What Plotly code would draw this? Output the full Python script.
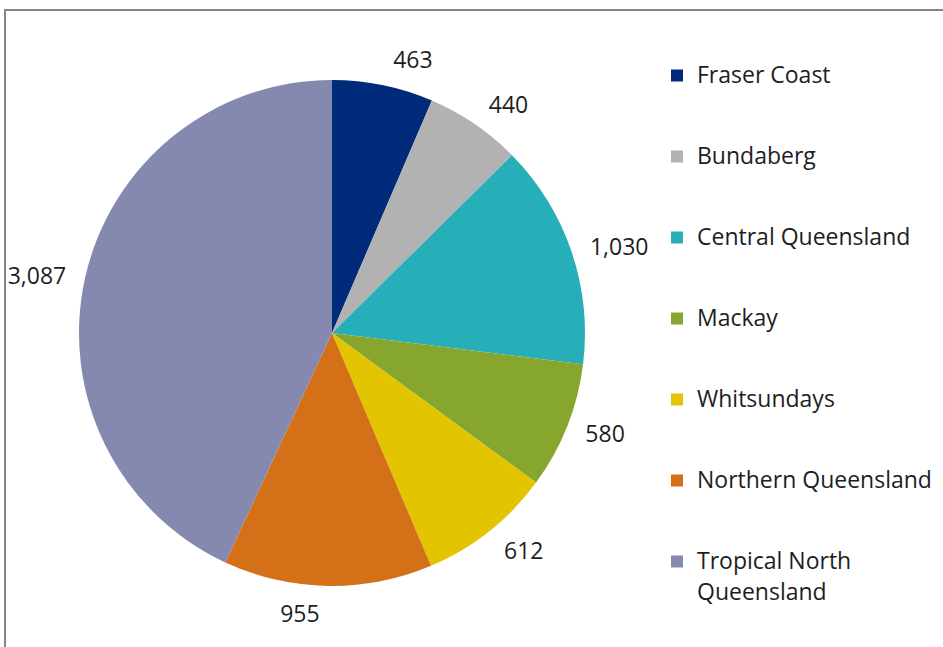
import plotly.graph_objects as go

categories = ["Fraser Coast", "Bundaberg", "Central Queensland", "Mackay",
              "Whitsundays", "Northern Queensland", "Tropical North<br>Queensland"]
values = [463, 440, 1030, 580, 612, 955, 3087]
colors = ["#002A7A", "#B2B2B2", "#26AFB9", "#86A62E", "#E3C400", "#D47118", "#8589B0"]

W, H = 943, 647
FONT = "Open Sans"
CX, CY, R, R_LBL = 332, 333, 253, 264


# pad legend entries to three lines so legend rows are spaced like the original;
# a wrapped second line is nudged down to open up its line gap
def pad(label):
    parts = label.split("<br>")
    lines = ["\u00a0", '<span style="font-size:23px">%s</span>' % parts[0]]
    if len(parts) > 1:
        lines.append('<span style="font-size:23px;baseline-shift:-5px">%s</span>' % parts[1])
    else:
        lines.append("\u00a0")
    return "<br>".join(lines)


legend_labels = [pad(c) for c in categories]
plain = [c.replace("<br>", " ") for c in categories]


def dom(r):
    return dict(x=[(CX - r) / W, (CX + r) / W], y=[1 - (CY + r) / H, 1 - (CY - r) / H])


fig = go.Figure()
fig.add_trace(go.Pie(
    labels=legend_labels,
    values=values,
    marker=dict(colors=colors, line=dict(width=0)),
    sort=False,
    direction="clockwise",
    rotation=0,
    textinfo="none",
    domain=dom(R),
    hovertext=plain,
    hoverinfo="text+value",
))
# transparent companion pie that carries the value labels a little outside the slices
fig.add_trace(go.Pie(
    labels=legend_labels,
    values=values,
    marker=dict(colors=["rgba(0,0,0,0)"] * len(values), line=dict(width=0)),
    sort=False,
    direction="clockwise",
    rotation=0,
    textinfo="value",
    texttemplate="%{value:,}",
    textposition="outside",
    textfont=dict(size=23, color="#1E1E1E", family=FONT),
    domain=dom(R_LBL),
    showlegend=False,
    hoverinfo="skip",
))

fig.update_layout(
    width=W, height=H,
    margin=dict(l=0, r=0, t=0, b=0),
    paper_bgcolor="white",
    font=dict(family=FONT, color="#1E1E1E"),
    showlegend=True,
    legend=dict(x=657 / W, y=1 - 30 / H, xanchor="left", yanchor="top",
                font=dict(size=20, family=FONT, color="#1E1E1E"),
                bgcolor="rgba(0,0,0,0)"),
    shapes=[dict(type="rect", xref="paper", yref="paper",
                 x0=5 / W, x1=1.2, y0=-0.2, y1=1 - 10 / H,
                 line=dict(color="#868686", width=2), layer="below")],
)

fig.write_html("out.html", config={"displayModeBar": False},
               post_script="document.body.style.margin='0px';document.body.style.overflow='hidden';")
